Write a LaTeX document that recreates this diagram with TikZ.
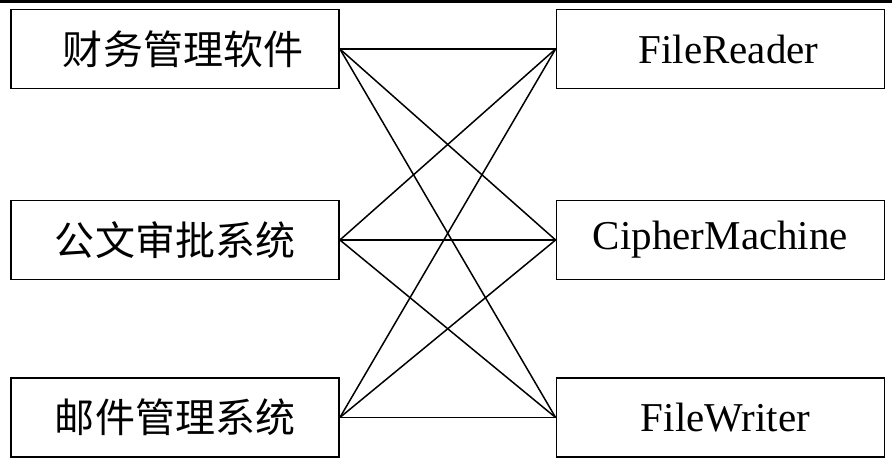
\documentclass[tikz,border=0pt]{standalone}
\usepackage{fontspec}
\setmainfont{Liberation Serif}
\newfontfamily\cjk{Noto Sans CJK SC}
\begin{document}
\begin{tikzpicture}[x=1bp,y=-1bp,
  box/.style={draw,line width=1.8bp,minimum width=328bp,minimum height=79bp,inner sep=0pt,font=\fontsize{41bp}{45bp}\selectfont},
  cbox/.style={box,font=\fontsize{40bp}{44bp}\selectfont\cjk},
  link/.style={line width=1.5bp}]
\useasboundingbox (0,0) rectangle (892,475);
\draw[line width=2.6bp] (0,1.3) -- (892,1.3);
\node[cbox] (l1) at (175,49) {\hspace*{16bp}财务管理软件};
\node[cbox] (l2) at (175,240) {公文审批系统};
\node[cbox] (l3) at (175,417.5) {邮件管理系统};
\node[box] (r1) at (720.5,49) {\hspace*{16bp}FileReader};
\node[box] (r2) at (720.5,240) {CipherMachine};
\node[box] (r3) at (720.5,417.5) {\hspace*{10bp}FileWriter};
\foreach \a in {l1,l2,l3}{
  \foreach \b in {r1,r2,r3}{
    \draw[link] (\a.east) -- (\b.west);
  }
}
\end{tikzpicture}
\end{document}
